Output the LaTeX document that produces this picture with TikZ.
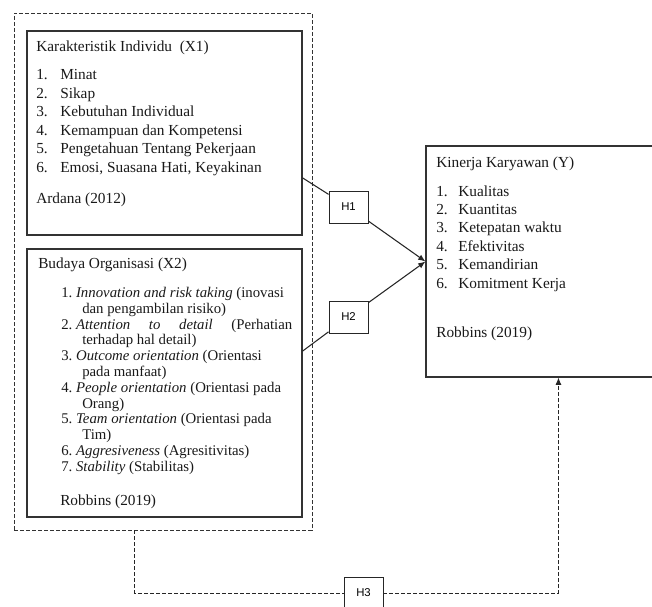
\documentclass[tikz,border=0pt]{standalone}
\usepackage{fontspec}
\setmainfont{Liberation Serif}
\newfontfamily\hfont{Liberation Sans}
\usetikzlibrary{fit,calc,arrows.meta}

\tikzset{
  box/.style={draw=black!80, line width=.8pt, inner sep=0pt},
  frame/.style={draw=black!80, line width=.7pt, dash pattern=on 3pt off 1.5pt, inner sep=0pt},
  hbox/.style={draw=black!85, line width=.7pt, minimum width=29.25pt, minimum height=24pt, inner sep=0pt, font=\hfont\fontsize{8.5}{10}\selectfont},
  txt/.style={anchor=base west, inner sep=0pt, text=black!90, font=\fontsize{11.5}{13}\selectfont},
  txtb/.style={txt, font=\fontsize{11.1}{13}\selectfont},
  link/.style={line width=.8pt, black!85},
  dashlink/.style={line width=.7pt, black!85, dash pattern=on 3pt off 1.5pt},
}

\begin{document}
\begin{tikzpicture}[x=.75pt, y=-.75pt, >={Latex[length=5.5pt,width=4.5pt]}]
   \useasboundingbox (0,0) rectangle (652,606);

   % dashed frame round X1 and X2
   \node[frame, fit={(14,13) (312,530)}] (outer) {};

   \node[box, fit={(27,31) (302,235)}] (x1) {};
   \node[box, fit={(27,249) (302,517)}] (x2) {};
   \node[box, fit={(426,146) (660,377)}] (y) {};

   \node[hbox] (h1) at (348.5,207) {H1};
   \node[hbox] (h2) at (348.5,317) {H2};
   \node[hbox] (h3) at (363.5,593) {H3};

   % X1
   \node[txt] (x1t) at (36,52) {Karakteristik Individu\ \ (X1)};
   \foreach \t [count=\i] in {Minat, Sikap, Kebutuhan Individual, Kemampuan dan Kompetensi, Pengetahuan Tentang Pekerjaan, {Emosi, Suasana Hati, Keyakinan}} {
      \node[txt] (x1n\i) at (36, {80+18.4*(\i-1)}) {\i.};
      \node[txt] (x1i\i) at (60, {80+18.4*(\i-1)}) {\t};
   }
   \node[txt] (x1s) at (36,203) {Ardana (2012)};

   % X2
   \node[txt] (x2t) at (38,268) {Budaya Organisasi (X2)};
   \foreach \x/\t [count=\k] in {
      61/{1.\hspace{.25em}\textit{Innovation and risk taking} (inovasi},
      82/{dan pengambilan risiko)},
      61/{\makebox[173.25pt][s]{2.\hspace{.25em}\textit{Attention to detail} (Perhatian}},
      82/{terhadap hal detail)},
      61/{3.\hspace{.25em}\textit{Outcome orientation} (Orientasi},
      82/{pada manfaat)},
      61/{4.\hspace{.25em}\textit{People orientation} (Orientasi pada},
      82/{Orang)},
      61/{5.\hspace{.25em}\textit{Team orientation} (Orientasi pada},
      82/{Tim)},
      61/{6.\hspace{.25em}\textit{Aggresiveness} (Agresitivitas)},
      61/{7.\hspace{.25em}\textit{Stability} (Stabilitas)}}
   \node[txtb] (x2l\k) at (\x, {297.5+15.8*(\k-1)}) {\t};
   \node[txt] (x2s) at (60,505) {Robbins (2019)};

   % Y
   \node[txt] (yt) at (436,167) {Kinerja Karyawan (Y)};
   \foreach \t [count=\i] in {Kualitas, Kuantitas, Ketepatan waktu, Efektivitas, Kemandirian, Komitment Kerja} {
      \node[txt] (yn\i) at (436, {196+18.4*(\i-1)}) {\i.};
      \node[txt] (yi\i) at (458, {196+18.4*(\i-1)}) {\t};
   }
   \node[txt] (ys) at (436,337) {Robbins (2019)};

   % hypotheses
   \draw[link] (x1.-18.5) -- (h1);
   \draw[link,->] (h1) -- (y.west);
   \draw[link] (x2.13.5) -- (h2);
   \draw[link,->] (h2) -- (y.west);
   \draw[dashlink] ($(outer.south west)+(121,0)$) |- (h3.west);
   \draw[dashlink,->] (h3.east) -| ($(y.south west)+(133,0)$);

\end{tikzpicture}
\end{document}
